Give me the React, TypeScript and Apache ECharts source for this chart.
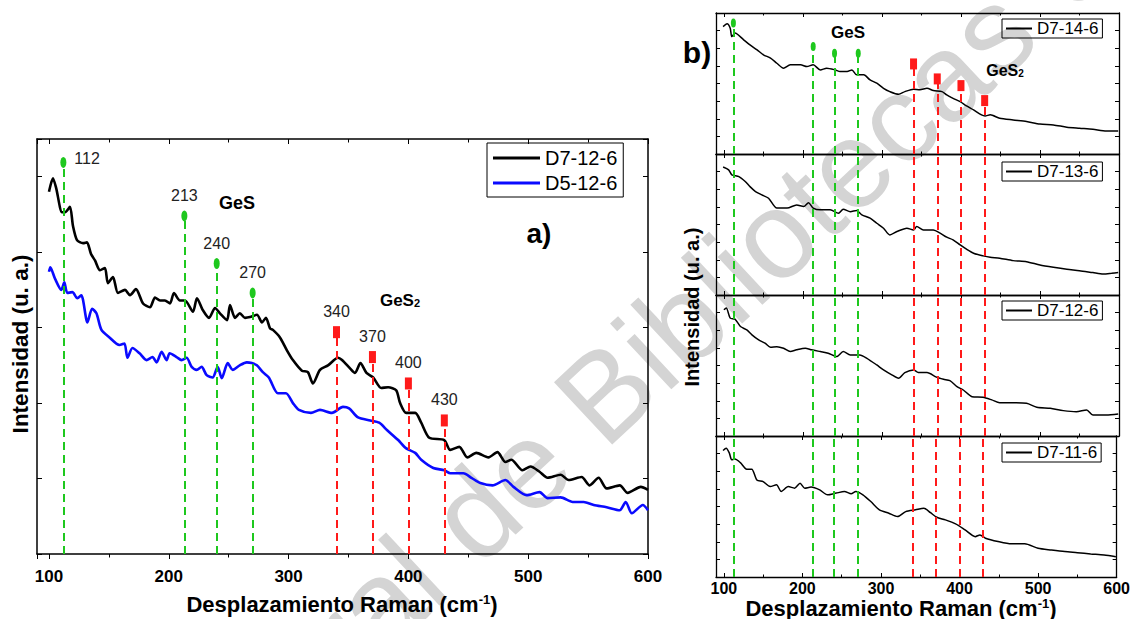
import React, { useEffect, useRef } from "react";
import * as echarts from "echarts";

const FONT = "'Liberation Sans', Arial, Helvetica, sans-serif";

// Raman spectra, panel a) — [Raman shift (cm-1), intensity (a.u.)]
const spectrumA_D7_12_6: number[][] = [
  [100, 4.8], [103.3, 4.98], [106, 4.85], [110.9, 4.53], [113.4, 4.53], [117.5, 4.6], [120, 4.35],
  [123.4, 4.16], [128.4, 4.12], [131.7, 4.13], [135, 3.98], [138.4, 3.89], [142.6, 3.76], [146.7, 3.79],
  [149.2, 3.59], [153.4, 3.67], [157.6, 3.46], [163.4, 3.5], [167.6, 3.43], [172.6, 3.51], [178.5, 3.32],
  [184.3, 3.27], [188.5, 3.4], [192.7, 3.36], [196.8, 3.36], [201, 3.32], [204.3, 3.46], [209.3, 3.36],
  [213.5, 3.36], [220.2, 3.21], [223.5, 3.39], [228.5, 3.23], [233.6, 3.13], [238.6, 3.26], [242.7, 3.19],
  [248.6, 3.1], [251.1, 3.3], [255.3, 3.13], [259.4, 3.19], [263.6, 3.13], [267.8, 3.14], [273.6, 3.17],
  [277.8, 3.07], [281.1, 3.13], [284.5, 2.99], [286.9, 2.97], [292.8, 2.87], [298.6, 2.7], [303.6, 2.57],
  [311.1, 2.43], [316.1, 2.41], [320.3, 2.26], [326.2, 2.44], [332.9, 2.5], [341.3, 2.6], [344.6, 2.57],
  [351.3, 2.46], [355.4, 2.4], [360, 2.53], [365, 2.4], [370.6, 2.34], [377.3, 2.2], [383.1, 2.21],
  [389.8, 2.17], [393.1, 2.0], [398.2, 1.87], [405.7, 1.87], [410.7, 1.74], [417.4, 1.54], [429.9, 1.51],
  [434.9, 1.38], [442.5, 1.42], [449.2, 1.28], [456.7, 1.34], [466.8, 1.28], [474.3, 1.35], [481, 1.22],
  [486, 1.25], [495.2, 1.11], [502, 1.16], [509.5, 1.09], [516.2, 1.01], [527.1, 1.05], [533.7, 0.98],
  [544.6, 1.02], [551.3, 0.91], [558.8, 1.01], [565.5, 0.87], [576.4, 0.91], [583.1, 0.81], [594, 0.89],
  [600, 0.85],
];

const spectrumA_D5_12_6: number[][] = [
  [100, 3.74], [101.1, 3.8], [105, 3.65], [110.3, 3.5], [112.8, 3.6], [115.3, 3.46], [119.5, 3.47],
  [123.7, 3.39], [127, 3.43], [132.1, 3.07], [136, 3.25], [139.6, 3.19], [143.8, 2.97], [150.5, 2.87],
  [158.8, 2.77], [163, 2.79], [165.5, 2.6], [169.7, 2.73], [175.6, 2.66], [181.4, 2.57], [186.4, 2.61],
  [189.8, 2.54], [194, 2.68], [198.2, 2.57], [200.7, 2.66], [206.5, 2.61], [210.7, 2.57], [214.9, 2.6],
  [219.1, 2.48], [223.3, 2.44], [227.4, 2.48], [231.6, 2.37], [236.6, 2.34], [240.8, 2.48], [244.2, 2.33],
  [249.2, 2.53], [253.4, 2.44], [259.2, 2.5], [265.1, 2.54], [269.3, 2.53], [273.5, 2.5], [278.5, 2.41],
  [283.5, 2.34], [291.1, 2.13], [297.8, 2.13], [303.6, 2.0], [308.6, 1.91], [318.7, 1.87], [326.2, 1.91],
  [336.2, 1.87], [345.4, 1.95], [350.5, 1.93], [358, 1.81], [368.1, 1.77], [375.6, 1.74], [382.3, 1.64],
  [391.5, 1.51], [398.2, 1.4], [405.7, 1.34], [410.7, 1.25], [420.8, 1.14], [430, 1.11], [435, 1.07],
  [445.9, 1.07], [452.6, 1.01], [460.1, 0.94], [470.2, 0.91], [481, 0.98], [487.7, 0.89], [498.6, 0.78],
  [509.5, 0.82], [516.2, 0.74], [527.1, 0.75], [537.1, 0.69], [546.3, 0.69], [554.7, 0.65], [565.5, 0.62],
  [576.4, 0.58], [581.4, 0.69], [586.5, 0.54], [595.7, 0.65], [600, 0.58],
];

// Raman spectra, panel b) — one sample per stacked frame
const spectrumB_D7_14_6: number[][] = [
  [99, 7.23], [104, 7.39], [108, 7.14], [110, 6.66], [114, 6.86], [125, 6.48], [133, 6.19], [142, 5.91],
  [150, 5.63], [159, 5.44], [167, 5.15], [175.5, 4.87], [184, 5.06], [197, 5.06], [205, 4.96], [213, 5.06],
  [222, 4.77], [230, 4.87], [241, 4.77], [247, 4.68], [256, 4.68], [262, 4.77], [268, 4.49], [277, 4.49],
  [285, 4.2], [293.5, 4.02], [302, 3.73], [310, 3.54], [321, 3.39], [329, 3.54], [340, 3.68], [348, 3.64],
  [357, 3.73], [365, 3.6], [376, 3.54], [382, 3.35], [390, 3.16], [399, 2.97], [407, 2.73], [416, 2.5],
  [426, 2.22], [430.5, 2.16], [437, 2.22], [449, 2.03], [466, 1.93], [483, 1.84], [500, 1.7], [517, 1.65],
  [534, 1.52], [550, 1.46], [567, 1.4], [584, 1.31], [599, 1.31],
];

const spectrumB_D7_13_6: number[][] = [
  [99, 7.26], [106, 7.1], [110, 6.82], [119, 6.72], [127, 6.44], [133, 6.15], [140, 5.87], [148, 5.68],
  [156.5, 5.49], [167, 4.93], [180, 4.93], [192, 5.11], [201, 5.02], [207, 5.24], [213, 4.93], [222, 4.83],
  [234.5, 4.83], [245, 4.64], [251, 4.87], [260, 4.73], [268, 4.79], [274.6, 4.55], [285, 4.36],
  [293.5, 4.07], [302, 3.79], [310, 3.41], [319, 3.6], [331.5, 3.79], [340, 3.69], [344, 3.88],
  [352.5, 3.69], [365, 3.69], [373.6, 3.51], [382, 3.28], [390, 3.13], [399, 2.84], [407, 2.6],
  [416, 2.37], [428, 2.22], [437, 2.14], [449, 2.09], [466, 1.95], [483, 1.89], [500, 1.7], [517, 1.57],
  [534, 1.46], [550, 1.38], [567, 1.27], [580, 1.19], [590.6, 1.23], [599, 1.27],
];

const spectrumB_D7_12_6: number[][] = [
  [100, 7.16], [103, 7.26], [108, 6.69], [114, 6.63], [121, 6.21], [129, 6.02], [135.5, 5.74], [144, 5.45],
  [152, 5.27], [159, 5.04], [167, 5.07], [175.5, 4.98], [184, 4.79], [192, 4.89], [203, 4.98], [211, 4.89],
  [222, 4.79], [232, 4.7], [243, 4.51], [251, 4.79], [260, 4.6], [272, 4.6], [281, 4.41], [293.5, 4.03],
  [302, 3.75], [312.5, 3.47], [321, 3.28], [329, 3.6], [340, 3.75], [346, 3.6], [357, 3.6], [369, 3.34],
  [378, 3.22], [386, 3.14], [395, 2.8], [403, 2.61], [414, 2.23], [428, 2.2], [439, 2.05], [449, 1.89],
  [466, 1.89], [483, 1.86], [496, 1.63], [513, 1.57], [529.5, 1.44], [546, 1.38], [559, 1.48],
  [567, 1.19], [584, 1.19], [599, 1.25],
];

const spectrumB_D7_11_6: number[][] = [
  [99, 7.18], [103, 7.31], [107, 7.03], [110, 6.65], [114, 6.69], [121, 6.49], [129, 6.12], [135.5, 6.12],
  [142, 5.51], [150, 5.41], [159, 5.13], [167, 5.23], [173, 4.85], [182, 5.13], [190, 5.04], [197, 5.32],
  [203, 5.04], [211, 5.1], [222, 4.94], [232, 4.66], [243, 4.76], [253.5, 4.85], [262, 4.72], [268, 4.85],
  [277, 4.66], [287, 4.28], [298, 3.81], [310, 3.62], [321, 3.43], [331.5, 3.71], [344, 3.81],
  [354.6, 3.9], [363, 3.65], [371, 3.39], [382, 3.24], [395, 3.01], [407, 2.67], [420, 2.29], [426, 2.39],
  [433, 2.2], [449, 2.01], [466, 1.88], [483, 1.88], [500, 1.63], [517, 1.53], [534, 1.44], [550, 1.38],
  [567, 1.31], [584, 1.25], [599, 1.15],
];

// Assigned phonon modes (cm-1) and the heights of their markers
const gesPeaks = [112, 213, 240, 270];
const ges2Peaks = [340, 370, 400, 430];
const gesMarkA = [5.19, 4.48, 3.85, 3.46];
const ges2MarkA = [2.94, 2.61, 2.26, 1.77];
const gesMarkB = [7.43, 6.1, 5.72, 5.72];
const ges2MarkB = [5.11, 4.26, 3.88, 3.03];

const legendA = ["D7-12-6", "D5-12-6"];
const legendB = ["D7-14-6", "D7-13-6", "D7-12-6", "D7-11-6"];

const X_MIN = 90;
const X_MAX = 600;
const Y_MAX_A = 5.5;
const Y_MAX_B = 8;

const GREEN = "#1ec81e";
const RED = "#ff1a1a";
const BLUE = "#0a0aff";
const ELLIPSE = "path://M0 1A1 1 0 1 1 2 1A1 1 0 1 1 0 1Z";

const GRIDS = [
  { left: 37, top: 139, width: 611, height: 415 },
  { left: 716, top: 13, width: 403, height: 141 },
  { left: 716, top: 154, width: 403, height: 141 },
  { left: 716, top: 295, width: 403, height: 141 },
  { left: 716, top: 436, width: 403, height: 141 },
];

function buildAxes() {
  const xAxis: any[] = [];
  const yAxis: any[] = [];
  GRIDS.forEach((_, i) => {
    const isA = i === 0;
    const lw = isA ? 1.5 : 1.3;
    const tickLen = isA ? 5 : 4;
    const axisLine = { onZero: false, lineStyle: { color: "#000", width: lw } };
    const tickStyle = { color: "#000", width: 1 };
    const common = {
      type: "value",
      gridIndex: i,
      min: X_MIN,
      max: X_MAX,
      splitNumber: 5,
      axisLine,
      splitLine: { show: false },
      minorSplitLine: { show: false },
    };
    xAxis.push({
      ...common,
      position: "bottom",
      axisTick: { inside: !isA, length: tickLen, lineStyle: tickStyle },
      minorTick: { show: true, splitNumber: 2, length: tickLen - 1.5, lineStyle: tickStyle },
      axisLabel: {
        show: isA || i === 4,
        showMinLabel: false,
        color: "#000",
        fontFamily: FONT,
        fontWeight: "bold",
        fontSize: isA ? 17 : 16,
        margin: isA ? 14 : 3,
      },
    });
    xAxis.push({
      ...common,
      position: "top",
      axisTick: { inside: true, length: tickLen, lineStyle: tickStyle },
      minorTick: { show: true, splitNumber: 2, length: tickLen - 1.5, lineStyle: tickStyle },
      axisLabel: { show: false },
    });
    const yCommon = {
      type: "value",
      gridIndex: i,
      min: 0,
      max: isA ? Y_MAX_A : Y_MAX_B,
      interval: 1,
      axisLine,
      axisTick: { inside: true, length: tickLen, lineStyle: tickStyle },
      axisLabel: { show: false },
      splitLine: { show: false },
    };
    yAxis.push({ ...yCommon, position: "left" });
    yAxis.push({ ...yCommon, position: "right" });
  });
  return { xAxis, yAxis };
}

function dashed(color: string, width: number) {
  return { color, width, type: [8, 5], opacity: 1 };
}

function peakSegments(peaks: number[], tops: number[], color: string) {
  return peaks.map((x, i) => [
    { coord: [x, 0], lineStyle: dashed(color, 2) },
    { coord: [x, tops[i]] },
  ]);
}

function markLineOf(data: any[]) {
  return {
    silent: true,
    symbol: ["none", "none"],
    label: { show: false },
    emphasis: { disabled: true },
    lineStyle: dashed(GREEN, 2),
    data,
  };
}

function curve(name: string, data: number[][], grid: number, color: string, width: number, extra: any = {}) {
  return {
    type: "line",
    name,
    xAxisIndex: grid * 2,
    yAxisIndex: grid * 2,
    data,
    symbol: "none",
    showSymbol: false,
    smooth: 0.25,
    lineStyle: { color, width },
    itemStyle: { color },
    emphasis: { disabled: true },
    silent: true,
    z: 3,
    ...extra,
  };
}

function peakMarkers(name: string, peaks: number[], tops: number[], grid: number, isGeS: boolean, withLabels: boolean) {
  const color = isGeS ? GREEN : RED;
  const isA = grid === 0;
  return {
    type: "scatter",
    name,
    xAxisIndex: grid * 2,
    yAxisIndex: grid * 2,
    symbol: isGeS ? ELLIPSE : "rect",
    symbolSize: isGeS ? (isA ? [6, 11] : [5, 9]) : isA ? [7, 12] : [7, 11],
    itemStyle: { color, opacity: 1 },
    emphasis: { disabled: true },
    silent: true,
    z: 2,
    label: {
      show: withLabels,
      position: "top",
      distance: 7,
      color: "#222",
      fontSize: 16,
      fontFamily: FONT,
      formatter: (p: any) => String(p.value[0]),
    },
    data: peaks.map((x, i) => ({
      value: [x, tops[i]],
      label: withLabels && isGeS && i === 0 ? { position: "right", distance: 8, offset: [0, -4] } : undefined,
    })),
    markLine: markLineOf(peakSegments(peaks, tops, color)),
  };
}

function fullHeightLines() {
  const full = (arr: number[]) => arr.map(() => Y_MAX_B);
  return markLineOf([
    ...peakSegments(gesPeaks, full(gesPeaks), GREEN),
    ...peakSegments(ges2Peaks, full(ges2Peaks), RED),
  ]);
}

function buildOption() {
  const { xAxis, yAxis } = buildAxes();
  const bSpectra = [spectrumB_D7_14_6, spectrumB_D7_13_6, spectrumB_D7_12_6, spectrumB_D7_11_6];

  const series: any[] = [
    curve(legendA[0], spectrumA_D7_12_6, 0, "#000", 2.6),
    curve(legendA[1], spectrumA_D5_12_6, 0, BLUE, 2.6),
    peakMarkers("GeS a", gesPeaks, gesMarkA, 0, true, true),
    peakMarkers("GeS2 a", ges2Peaks, ges2MarkA, 0, false, true),
    peakMarkers("GeS b", gesPeaks, gesMarkB, 1, true, false),
    peakMarkers("GeS2 b", ges2Peaks, ges2MarkB, 1, false, false),
  ];
  bSpectra.forEach((data, k) => {
    series.push(
      curve(legendB[k], data, k + 1, "#000", 1.5, k > 0 ? { markLine: fullHeightLines() } : {})
    );
  });

  const legendBTops = [19, 162, 301, 443];
  const legend: any[] = [
    {
      data: legendA,
      left: 487,
      top: 143,
      orient: "vertical",
      icon: "rect",
      itemWidth: 47,
      itemHeight: 3,
      itemGap: 5,
      padding: [5, 6, 4, 6],
      borderColor: "#000",
      borderWidth: 1,
      selectedMode: false,
      textStyle: { fontSize: 20, color: "#000", fontFamily: FONT },
    },
    ...legendB.map((name, k) => ({
      data: [name],
      left: 1002,
      top: legendBTops[k],
      icon: "rect",
      itemWidth: 26,
      itemHeight: 2,
      padding: [1, 4, 1, 4],
      borderColor: "#000",
      borderWidth: 1,
      selectedMode: false,
      textStyle: { fontSize: 17, color: "#000", fontFamily: FONT },
    })),
  ];

  const bold = (size: number) => ({ fontSize: size, fontWeight: "bold", fontFamily: FONT, fill: "#000" });
  const text = (x: number, y: number, t: string, size: number, extra: any = {}) => ({
    type: "text",
    x,
    y,
    z: 10,
    silent: true,
    style: { text: t, ...bold(size), align: "center", verticalAlign: "middle" },
    ...extra,
  });
  const richText = (x: number, y: number, t: string, size: number, small: number, raise: boolean, extra: any = {}) => ({
    type: "text",
    x,
    y,
    z: 10,
    silent: true,
    style: {
      text: t,
      align: "center",
      verticalAlign: "middle",
      rich: {
        a: { ...bold(size), lineHeight: size, verticalAlign: "middle" },
        s: { ...bold(small), lineHeight: small, verticalAlign: raise ? "top" : "bottom" },
      },
    },
    ...extra,
  });

  const graphic: any[] = [
    {
      type: "text",
      x: 467,
      y: 521,
      rotation: 0.75,
      z: -10,
      silent: true,
      style: {
        text: "Dirección General de Bibliotecas UAQ",
        fontSize: 124,
        fontFamily: FONT,
        fill: "#d4d4d4",
        align: "center",
        verticalAlign: "middle",
      },
    },
    text(539, 233, "a)", 28),
    text(237, 203, "GeS", 18),
    richText(400, 300, "{a|GeS}{s|2}", 17, 11, false),
    text(697, 52, "b)", 30),
    text(848, 32, "GeS", 17),
    richText(1005, 70, "{a|GeS}{s|2}", 16, 10, false),
    richText(342, 604, "{a|Desplazamiento Raman (cm}{s|-1}{a|)}", 22, 13, true),
    text(20, 344, "Intensidad (u. a.)", 22.5, { rotation: Math.PI / 2 }),
    richText(901, 608, "{a|Desplazamiento Raman (cm}{s|-1}{a|)}", 22, 13, true),
    text(692, 307, "Intensidad (u. a.)", 20, { rotation: Math.PI / 2 }),
  ];

  return {
    animation: false,
    backgroundColor: "#ffffff",
    textStyle: { fontFamily: FONT },
    grid: GRIDS.map((g) => ({ ...g, containLabel: false })),
    xAxis,
    yAxis,
    legend,
    series,
    graphic,
  };
}

export default function App() {
  const ref = useRef<HTMLDivElement>(null);
  useEffect(() => {
    if (!ref.current) return;
    const chart = echarts.init(ref.current, undefined, { renderer: "svg" });
    chart.setOption(buildOption() as any);
    return () => chart.dispose();
  }, []);
  return (
    <div
      ref={ref}
      style={{ position: "absolute", left: 0, top: 0, width: 1133, height: 619, background: "#fff" }}
    />
  );
}
